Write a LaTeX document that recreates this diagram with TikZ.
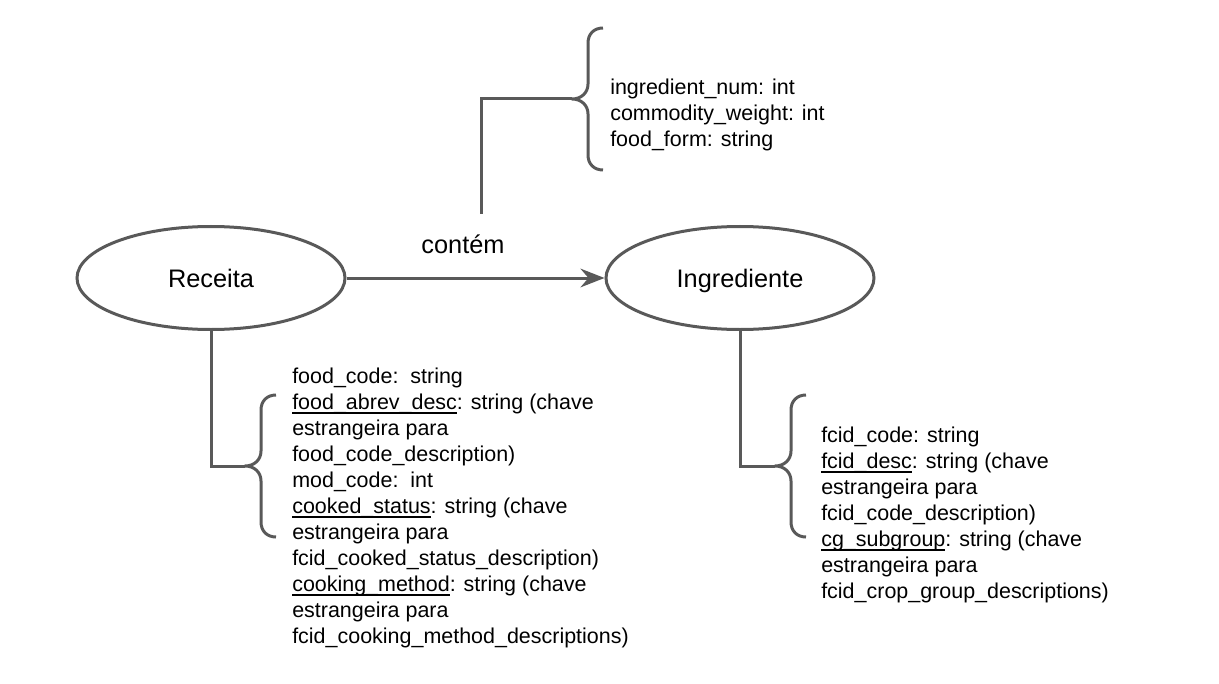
\documentclass[tikz,border=0pt]{standalone}
\usepackage{fontspec}
\setmainfont{Liberation Sans}
\usetikzlibrary{shapes.geometric,arrows.meta}

\definecolor{linegray}{HTML}{595959}

% underline that sits on the level of the underscores
\newcommand\keyattr[1]{\setbox0\hbox{#1}\rlap{\rule[-0.19em]{\wd0}{0.065em}}#1}

% curly brace opening to the right, its tip at the named coordinate #1
\newcommand\attrbrace[1]{%
  \begin{scope}[shift={(#1)}]
    \draw[brace] (31,-71) .. controls (22,-71) and (16,-65) .. (16,-56)
      -- (16,-15) .. controls (16,-6) and (9,0) .. (0,0)
      .. controls (9,0) and (16,6) .. (16,15)
      -- (16,56) .. controls (16,65) and (22,71) .. (31,71);
  \end{scope}}

\begin{document}
\begin{tikzpicture}[x=0.75pt,y=-0.75pt,
  entity/.style={ellipse,draw=linegray,line width=2.25pt,minimum width=201pt,
    minimum height=77.25pt,inner sep=0pt,text height=14pt,text depth=0.5pt,
    font=\fontsize{19}{23}\selectfont},
  attrs/.style={anchor=north west,inner sep=0pt,align=left,
    font=\fontsize{16.1}{19.5}\selectfont},
  link/.style={draw=linegray,line width=2.25pt},
  brace/.style={draw=linegray,line width=2.25pt,line join=round}]

\useasboundingbox (0,0) rectangle (1219,684);

%=== entities and relation ===
\node[entity] (receita) at (211,278) {Receita};
\node[entity] (ingrediente) at (740,278) {Ingrediente};
\draw[link,-{Stealth[length=18pt,width=14pt,inset=6pt]}] (receita) -- (ingrediente);
\node[font=\fontsize{19}{23}\selectfont] (rellabel) at (463,244) {contém};

%=== attributes of the relation ===
\coordinate (relstem) at (481,214);
\coordinate (reltip) at (572,99);
\draw[link] (relstem) |- (reltip);
\attrbrace{reltip}
\node[attrs] (relattrs) at (610,76) {\strut ingredient\_num: int\\
  commodity\_weight: int\\
  food\_form: string};

%=== attributes of Receita ===
\coordinate (rectip) at (245,466);
\draw[link] (receita.south) |- (rectip);
\attrbrace{rectip}
\node[attrs] (recattrs) at (292,365) {\strut food\_code:\ \ string\\
  \keyattr{food\_abrev\_desc}: string (chave\\
  estrangeira para\\
  food\_code\_description)\\
  mod\_code:\ \ int\\
  \keyattr{cooked\_status}: string (chave\\
  estrangeira para\\
  fcid\_cooked\_status\_description)\\
  \keyattr{cooking\_method}: string (chave\\
  estrangeira para\\
  fcid\_cooking\_method\_descriptions)};

%=== attributes of Ingrediente ===
\coordinate (ingtip) at (775,466);
\draw[link] (ingrediente.south) |- (ingtip);
\attrbrace{ingtip}
\node[attrs] (ingattrs) at (821,424) {\strut fcid\_code: string\\
  \keyattr{fcid\_desc}: string (chave\\
  estrangeira para\\
  fcid\_code\_description)\\
  \keyattr{cg\_subgroup}: string (chave\\
  estrangeira para\\
  fcid\_crop\_group\_descriptions)};

\end{tikzpicture}
\end{document}
